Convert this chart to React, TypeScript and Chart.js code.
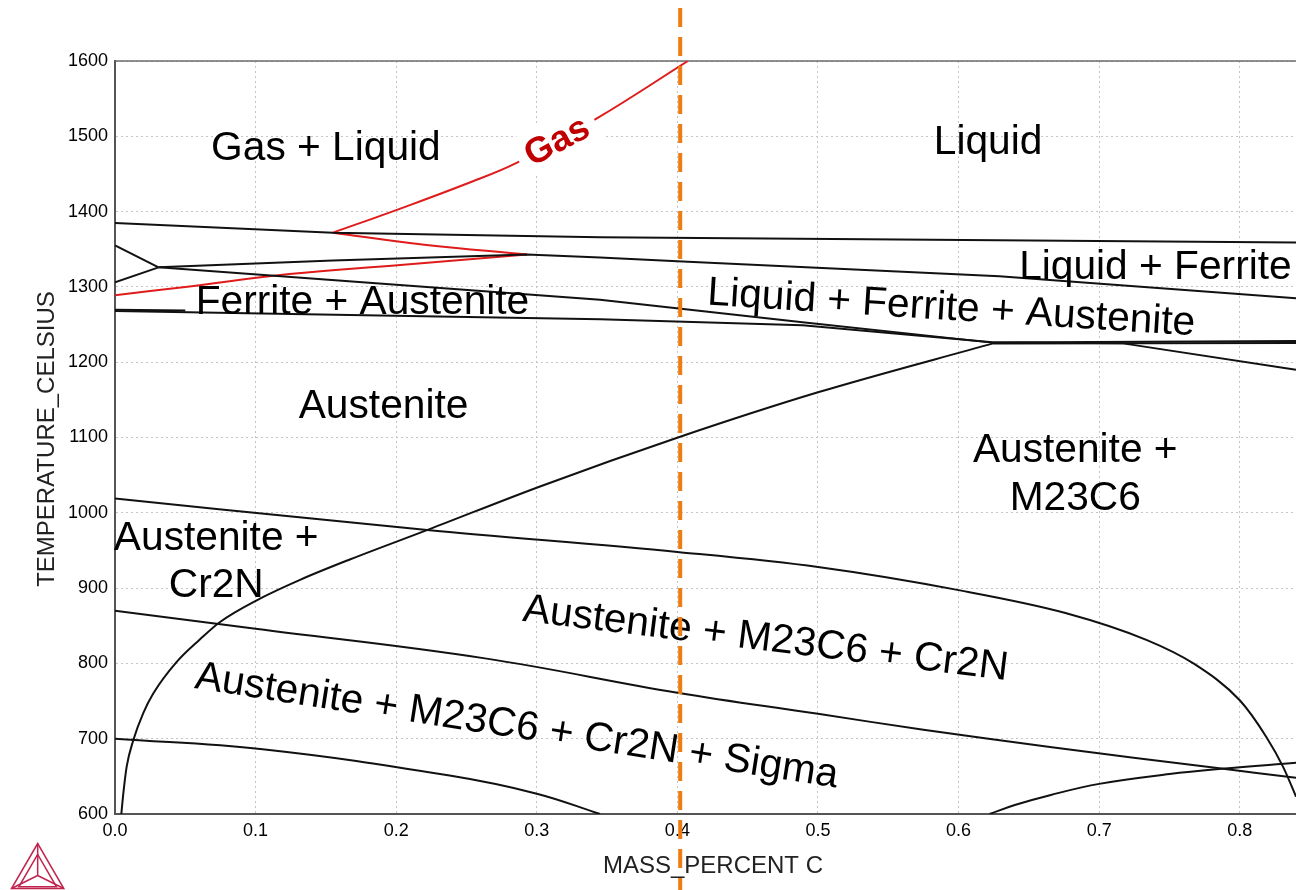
import React, { useEffect, useRef } from "react";
import { Chart, registerables } from "chart.js";

Chart.register(...registerables);

const FONT = '"Liberation Sans", Arial, Helvetica, sans-serif';

// Axis ranges and ticks
const massRange = [0, 0.84];
const tempRange = [600, 1600];
const massTicks = [0, 0.1, 0.2, 0.3, 0.4, 0.5, 0.6, 0.7, 0.8];
const tempTicks = [600, 700, 800, 900, 1000, 1100, 1200, 1300, 1400, 1500, 1600];

// Selected composition marker (mass % C)
const markerC = 0.402;

// Phase boundaries as [mass % C, temperature °C]
const liquidus = [[0, 1385], [0.155, 1372], [0.345, 1366], [0.84, 1359]];
const gasOnset = [[0.155, 1372], [0.2, 1402], [0.25, 1437], [0.286, 1465], [0.343, 1524], [0.4075, 1600]];
const gasLiquidFerrite = [[0.155, 1372], [0.22, 1356], [0.293, 1343]];
const gasFerrite = [[0, 1289], [0.05, 1300], [0.124, 1317], [0.203, 1329], [0.293, 1343]];
const ferriteUpperLeft = [[0, 1355], [0.031, 1326]];
const ferriteLowerLeft = [[0, 1306], [0.031, 1326]];
const liquidFerriteLower = [[0.031, 1326], [0.155, 1335], [0.293, 1343], [0.345, 1339], [0.4, 1334], [0.629, 1314], [0.84, 1285]];
const ferriteAustenite = [[0.031, 1326], [0.345, 1283], [0.489, 1253], [0.624, 1226], [0.84, 1228]];
const austeniteSolvus = [[0, 1268], [0.345, 1257], [0.489, 1249], [0.624, 1226.5], [0.717, 1225], [0.84, 1190]];
const austeniteSolvusStub = [[0, 1269.5], [0.05, 1268.5]];
const m23c6Solvus = [
  [0.0045, 600], [0.0059, 627], [0.0083, 663], [0.013, 698], [0.0201, 734], [0.0272, 760],
  [0.0439, 802], [0.0605, 832], [0.0747, 855], [0.1031, 886], [0.1316, 911], [0.167, 938],
  [0.2233, 978], [0.3023, 1035], [0.4004, 1100], [0.5, 1160], [0.6245, 1225],
];
const m23c6Flat = [[0.6245, 1225], [0.84, 1225.5]];
const cr2nSolvus = [
  [0, 1019], [0.222, 977], [0.4, 948], [0.5, 928], [0.601, 897], [0.676, 867], [0.734, 831],
  [0.767, 800], [0.8, 751], [0.819, 702], [0.831, 662], [0.84, 623], [0.845, 600],
];
const sigmaSolvus = [[0, 870], [0.1, 846], [0.262, 807], [0.4, 761], [0.5, 733], [0.575, 712], [0.665, 689], [0.784, 661], [0.84, 648]];
const sigmaLower = [[0, 700], [0.105, 686], [0.238, 651], [0.3, 627], [0.345, 600]];
const lowerRight = [[0.622, 600], [0.64, 612], [0.665, 625], [0.7, 640], [0.75, 653], [0.787, 660], [0.84, 668]];

// Phase field labels (placed in data coordinates)
const phaseLabels = [
  { text: "Gas + Liquid", c: 0.15, t: 1488, angle: 0 },
  { text: "Liquid", c: 0.621, t: 1495, angle: 0 },
  { text: "Liquid + Ferrite", c: 0.74, t: 1330, angle: 0 },
  { text: "Ferrite + Austenite", c: 0.176, t: 1283, angle: 0 },
  { text: "Liquid + Ferrite + Austenite", c: 0.595, t: 1275, angle: 3.6 },
  { text: "Austenite", c: 0.191, t: 1145, angle: 0 },
  { text: "Austenite +", c: 0.683, t: 1086, angle: 0 },
  { text: "M23C6", c: 0.683, t: 1022, angle: 0 },
  { text: "Austenite +", c: 0.072, t: 969, angle: 0 },
  { text: "Cr2N", c: 0.072, t: 907, angle: 0 },
  { text: "Austenite + M23C6 + Cr2N", c: 0.463, t: 836, angle: 7 },
  { text: "Austenite + M23C6 + Cr2N + Sigma", c: 0.286, t: 720, angle: 8.8 },
];
const gasLabel = { text: "Gas", c: 0.3137, t: 1496, angle: -28 };

const toPoints = (pairs: number[][]) => pairs.map(([x, y]) => ({ x, y }));

const black = "#111111";
const red = "#E01B1B";

type Curve = "straight" | "smooth" | "monotone";

function line(data: number[][], color: string, curve: Curve) {
  return {
    data: toPoints(data),
    borderColor: color,
    borderWidth: 2,
    pointRadius: 0,
    showLine: true,
    fill: false,
    cubicInterpolationMode: curve === "monotone" ? "monotone" : "default",
    tension: curve === "smooth" ? 0.4 : 0,
  };
}

const decorations = {
  id: "phaseDecorations",
  beforeDatasetsDraw(chart: any) {
    const { ctx, chartArea } = chart;
    ctx.save();
    ctx.strokeStyle = "#6a6a6a";
    ctx.lineWidth = 1.5;
    ctx.beginPath();
    ctx.moveTo(chartArea.left, chartArea.top);
    ctx.lineTo(chartArea.right, chartArea.top);
    ctx.stroke();
    ctx.restore();
  },
  afterDatasetsDraw(chart: any) {
    const { ctx } = chart;
    const xs = chart.scales.x;
    const ys = chart.scales.y;

    ctx.save();
    ctx.textAlign = "center";
    ctx.textBaseline = "middle";
    ctx.fillStyle = "#000";
    ctx.font = `40.7px ${FONT}`;
    for (const l of phaseLabels) {
      ctx.save();
      ctx.translate(xs.getPixelForValue(l.c), ys.getPixelForValue(l.t));
      ctx.rotate((l.angle * Math.PI) / 180);
      ctx.fillText(l.text, 0, 3);
      ctx.restore();
    }

    // Gas label with a white backing box over the curve
    ctx.save();
    ctx.translate(xs.getPixelForValue(gasLabel.c), ys.getPixelForValue(gasLabel.t));
    ctx.rotate((gasLabel.angle * Math.PI) / 180);
    ctx.font = `bold 36px ${FONT}`;
    const w = ctx.measureText(gasLabel.text).width;
    ctx.fillStyle = "#ffffff";
    ctx.fillRect(-w / 2 - 9, -21, w + 18, 42);
    ctx.fillStyle = "#C00000";
    ctx.fillText(gasLabel.text, 0, 3);
    ctx.restore();
    ctx.restore();
  },
  afterDraw(chart: any) {
    const { ctx } = chart;
    const xs = chart.scales.x;

    // Axis titles
    ctx.save();
    ctx.fillStyle = "#222";
    ctx.font = `24px ${FONT}`;
    ctx.textAlign = "center";
    ctx.textBaseline = "middle";
    ctx.fillText("MASS_PERCENT C", 713, 866);
    ctx.translate(47, 439);
    ctx.rotate(-Math.PI / 2);
    ctx.fillText("TEMPERATURE_CELSIUS", 0, 0);
    ctx.restore();

    // Composition marker
    const px = xs.getPixelForValue(markerC);
    ctx.save();
    ctx.strokeStyle = "#EE7D11";
    ctx.lineWidth = 4;
    ctx.setLineDash([19, 10]);
    ctx.beginPath();
    ctx.moveTo(px, 8);
    ctx.lineTo(px, 890);
    ctx.stroke();
    ctx.restore();

    // Logo
    ctx.save();
    ctx.strokeStyle = "#C0244F";
    ctx.lineWidth = 1.5;
    const A = [37.7, 843.5], B = [11.5, 888.5], C = [63.8, 888.5];
    const cx = (A[0] + B[0] + C[0]) / 3, cy = (A[1] + B[1] + C[1]) / 3 + 2;
    const tri = (p: number[][]) => {
      ctx.beginPath();
      ctx.moveTo(p[0][0], p[0][1]);
      ctx.lineTo(p[1][0], p[1][1]);
      ctx.lineTo(p[2][0], p[2][1]);
      ctx.closePath();
      ctx.stroke();
    };
    tri([A, B, C]);
    const s = 0.72;
    const inner = [A, B, C].map(([x, y]) => [cx + (x - cx) * s, cy + (y - cy) * s + 2]);
    tri(inner);
    ctx.beginPath();
    for (const [x, y] of [A, B, C]) {
      ctx.moveTo(cx, cy);
      ctx.lineTo(x, y);
    }
    ctx.stroke();
    ctx.restore();
  },
};

export default function App() {
  const ref = useRef<HTMLCanvasElement>(null);

  useEffect(() => {
    document.body.style.margin = "0";
    const canvas = ref.current;
    if (!canvas) return;

    const datasets = [
      line(liquidus, black, "straight"),
      line(ferriteUpperLeft, black, "straight"),
      line(ferriteLowerLeft, black, "straight"),
      line(liquidFerriteLower, black, "straight"),
      line(ferriteAustenite, black, "straight"),
      line(austeniteSolvus, black, "straight"),
      line(austeniteSolvusStub, black, "straight"),
      line(m23c6Solvus, black, "monotone"),
      line(m23c6Flat, black, "straight"),
      line(cr2nSolvus, black, "monotone"),
      line(sigmaSolvus, black, "smooth"),
      line(sigmaLower, black, "smooth"),
      line(lowerRight, black, "smooth"),
      line(gasOnset, red, "smooth"),
      line(gasLiquidFerrite, red, "smooth"),
      line(gasFerrite, red, "smooth"),
    ];

    const chart = new Chart(canvas, {
      type: "scatter",
      data: { datasets: datasets as any },
      options: {
        responsive: false,
        animation: false,
        devicePixelRatio: 1,
        layout: { padding: { top: 61, left: 0, right: 0, bottom: 0 } },
        plugins: { legend: { display: false }, tooltip: { enabled: false } },
        scales: {
          x: {
            type: "linear",
            min: massRange[0],
            max: massRange[1],
            afterFit: (scale: any) => {
              scale.height = 76;
            },
            afterBuildTicks: (scale: any) => {
              scale.ticks = massTicks.map((value) => ({ value }));
            },
            ticks: {
              padding: 6,
              color: "#000",
              font: { family: FONT, size: 18 },
              callback: (v: any) => Number(v).toFixed(1),
              maxRotation: 0,
            },
            grid: { color: "#c4c4c4", lineWidth: 1, drawTicks: false },
            border: { display: true, color: "#555", width: 2, dash: [2, 3] },
          },
          y: {
            type: "linear",
            min: tempRange[0],
            max: tempRange[1],
            afterFit: (scale: any) => {
              scale.width = 115;
            },
            afterBuildTicks: (scale: any) => {
              scale.ticks = tempTicks.map((value) => ({ value }));
            },
            ticks: {
              padding: 7,
              color: "#000",
              font: { family: FONT, size: 18 },
              callback: (v: any) => String(v),
            },
            grid: { color: "#c4c4c4", lineWidth: 1, drawTicks: false },
            border: { display: true, color: "#555", width: 2, dash: [2, 3] },
          },
        },
      },
      plugins: [decorations],
    });

    return () => chart.destroy();
  }, []);

  return (
    <canvas
      ref={ref}
      width={1296}
      height={890}
      style={{ display: "block", width: 1296, height: 890 }}
    />
  );
}
